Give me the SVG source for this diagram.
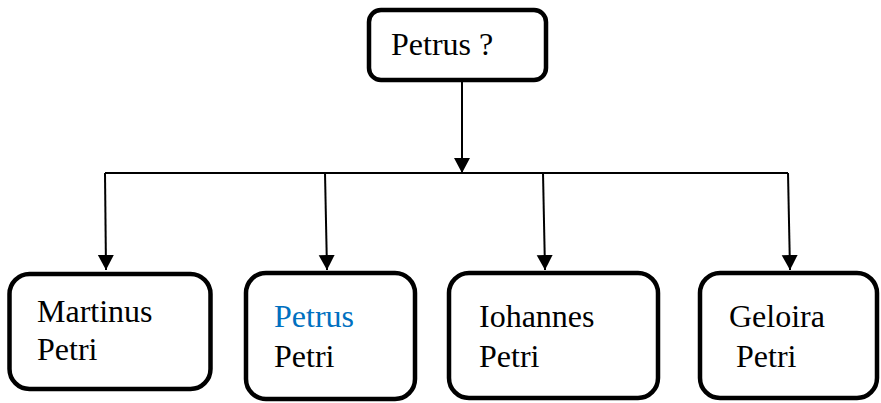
<svg xmlns="http://www.w3.org/2000/svg" width="881" height="403" viewBox="0 0 881 403">
<style>
.box{fill:#fff;stroke:#000;stroke-width:4.5}
.t{font-family:'Liberation Serif','Times New Roman',serif;font-size:32px;fill:#000}
.blue{fill:#0070c0}
.ln{stroke:#000;stroke-width:2;fill:none}
</style>
<defs>
<marker id="ah" markerUnits="userSpaceOnUse" markerWidth="18" markerHeight="18" refX="15" refY="9" orient="auto">
<path d="M0,1 L15,9 L0,17 Z" fill="#000"/>
</marker>
</defs>
<g id="connectors">
<line class="ln" x1="462" y1="82" x2="462" y2="173" marker-end="url(#ah)"/>
<line class="ln" x1="105" y1="173" x2="788" y2="173"/>
<line class="ln" x1="105" y1="173" x2="106" y2="270" marker-end="url(#ah)"/>
<line class="ln" x1="325" y1="173" x2="327" y2="270" marker-end="url(#ah)"/>
<line class="ln" x1="543" y1="173" x2="545" y2="270" marker-end="url(#ah)"/>
<line class="ln" x1="788" y1="173" x2="790" y2="270" marker-end="url(#ah)"/>
</g>
<g id="node-top">
<rect class="box" x="369" y="10" width="177" height="70" rx="12"/>
<text class="t" x="391" y="55">Petrus ?</text>
</g>
<g id="node-martinus">
<rect class="box" x="9.5" y="274" width="201" height="115" rx="20"/>
<text class="t" x="37" y="322">Martinus</text>
<text class="t" x="37" y="360">Petri</text>
</g>
<g id="node-petrus">
<rect class="box" x="246" y="273" width="169" height="126" rx="20"/>
<text class="t blue" x="274" y="327">Petrus</text>
<text class="t" x="274" y="367">Petri</text>
</g>
<g id="node-iohannes">
<rect class="box" x="449" y="273" width="209" height="125" rx="20"/>
<text class="t" x="479" y="327">Iohannes</text>
<text class="t" x="479" y="367">Petri</text>
</g>
<g id="node-geloira">
<rect class="box" x="700" y="273" width="177" height="125" rx="20"/>
<text class="t" x="729" y="327">Geloira</text>
<text class="t" x="736" y="367">Petri</text>
</g>
</svg>
